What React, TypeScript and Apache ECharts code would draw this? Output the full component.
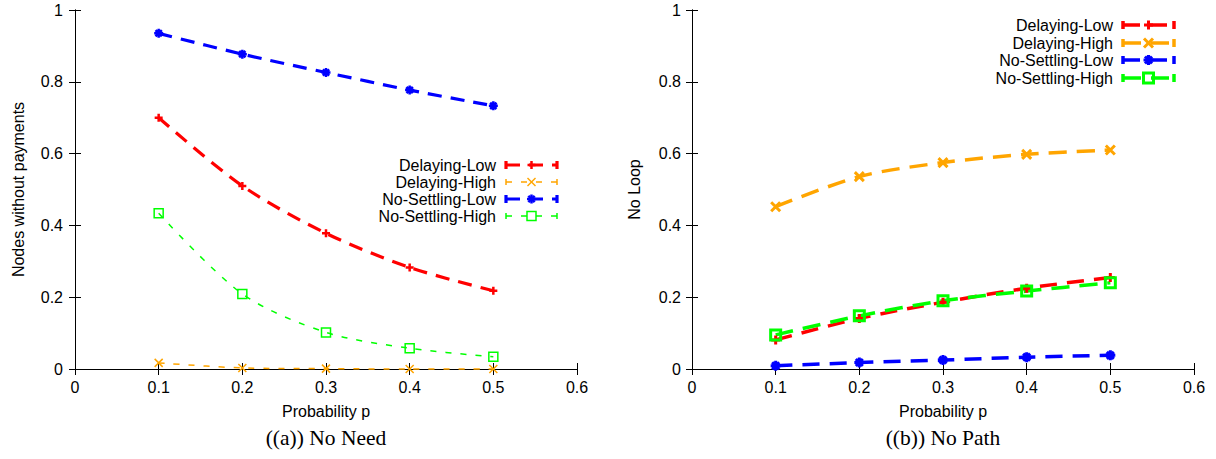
import React, { useEffect, useRef } from "react";
import * as echarts from "echarts";

// ---------- data ----------
const probabilities = [0.1, 0.2, 0.3, 0.4, 0.5];
const seriesNames = ["Delaying-Low", "Delaying-High", "No-Settling-Low", "No-Settling-High"];
const seriesColors = ["#ff0000", "#ffa500", "#0000ff", "#00ff00"];

// (a) No Need — "Nodes without payments"
const needDelayingLow = [0.7, 0.51, 0.378, 0.283, 0.218];
const needDelayingHigh = [0.017, 0.003, 0.001, 0.0, 0.0];
const needNoSettlingLow = [0.935, 0.877, 0.826, 0.777, 0.733];
const needNoSettlingHigh = [0.434, 0.209, 0.102, 0.058, 0.034];

// (b) No Path — "No Loop"
const pathDelayingLow = [0.081, 0.141, 0.186, 0.225, 0.255];
const pathDelayingHigh = [0.452, 0.536, 0.575, 0.598, 0.61];
const pathNoSettlingLow = [0.009, 0.018, 0.025, 0.033, 0.038];
const pathNoSettlingHigh = [0.095, 0.148, 0.19, 0.217, 0.24];

const xTickLabels = ["0", "0.1", "0.2", "0.3", "0.4", "0.5", "0.6"];
const yTickLabels = ["0", "0.2", "0.4", "0.6", "0.8", "1"];
const xAxisTitle = "Probability p";
const yAxisTitles = ["Nodes without payments", "No Loop"];
const captions = ["((a)) No Need", "((b)) No Path"];

// ---------- styling ----------
const SANS = "Liberation Sans, Arial, Helvetica, sans-serif";
const SERIF = "Liberation Serif, Times New Roman, serif";
const markerKinds = ["plus", "cross", "star", "square"];
const SYMBOL_PATHS: Record<string, string> = {
  plus: "path://M0,5L10,5M5,0L5,10",
  cross: "path://M0,0L10,10M10,0L0,10",
  star: "path://M0,5L10,5M5,0L5,10M1.5,1.5L8.5,8.5M8.5,1.5L1.5,8.5",
  square: "path://M0,0L10,0L10,10L0,10Z",
};

const GRIDS = [
  { left: 75, top: 10, width: 502, height: 359 },
  { left: 692, top: 10, width: 502, height: 359 },
];

// per panel, per series
const panelLineWidths = [
  [3.2, 1.5, 3.2, 1.5],
  [3.5, 3.5, 3.5, 3.5],
];
const panelDashes = [
  [[14, 9], [6, 9], [14, 9], [6, 9]],
  [[17, 10], [18, 10], [17, 10], [18, 10]],
];
const panelMarkerSizes = [
  [8, 8, 9, 9],
  [9, 9, 10, 10],
];
const panelMarkerWidths = [
  [2.5, 1.5, 2.5, 1.5],
  [3, 3, 3, 3],
];
const legendLayout = [
  { textRight: 496, x0: 506, x1: 557, rowY: [165, 182, 199, 216] },
  { textRight: 1113, x0: 1123, x1: 1174, rowY: [25, 43, 60, 78] },
];

function markerGraphics(kind: string, cx: number, cy: number, size: number, color: string, lw: number) {
  const h = size / 2;
  const st = { stroke: color, lineWidth: lw, fill: "none" };
  const ln = (x1: number, y1: number, x2: number, y2: number) => ({
    type: "line",
    shape: { x1, y1, x2, y2 },
    style: st,
    silent: true,
  });
  if (kind === "plus") return [ln(cx - h, cy, cx + h, cy), ln(cx, cy - h, cx, cy + h)];
  if (kind === "cross") return [ln(cx - h, cy - h, cx + h, cy + h), ln(cx + h, cy - h, cx - h, cy + h)];
  if (kind === "star") {
    const d = h * 0.7;
    return [
      ln(cx - h, cy, cx + h, cy),
      ln(cx, cy - h, cx, cy + h),
      ln(cx - d, cy - d, cx + d, cy + d),
      ln(cx + d, cy - d, cx - d, cy + d),
    ];
  }
  return [
    {
      type: "rect",
      shape: { x: cx - h, y: cy - h, width: size, height: size },
      style: st,
      silent: true,
    },
  ];
}

function legendGraphics(panel: number) {
  const L = legendLayout[panel];
  const els: any[] = [];
  seriesNames.forEach((name, i) => {
    const y = L.rowY[i];
    const color = seriesColors[i];
    const lw = panelLineWidths[panel][i];
    const cap = lw > 2 ? 4 : 3;
    els.push({
      type: "text",
      style: {
        text: name,
        x: L.textRight,
        y,
        align: "right",
        verticalAlign: "middle",
        font: `16px ${SANS}`,
        fill: "#000",
      },
      silent: true,
    });
    els.push({
      type: "line",
      shape: { x1: L.x0, y1: y, x2: L.x1, y2: y },
      style: { stroke: color, lineWidth: lw, lineDash: panelDashes[panel][i] },
      silent: true,
    });
    els.push({
      type: "line",
      shape: { x1: L.x0, y1: y - cap, x2: L.x0, y2: y + cap },
      style: { stroke: color, lineWidth: lw },
      silent: true,
    });
    els.push({
      type: "line",
      shape: { x1: L.x1, y1: y - cap, x2: L.x1, y2: y + cap },
      style: { stroke: color, lineWidth: lw },
      silent: true,
    });
    els.push(
      ...markerGraphics(
        markerKinds[i],
        (L.x0 + L.x1) / 2,
        y,
        panelMarkerSizes[panel][i],
        color,
        panelMarkerWidths[panel][i]
      )
    );
  });
  return els;
}

function buildOption() {
  const panels = [
    [needDelayingLow, needDelayingHigh, needNoSettlingLow, needNoSettlingHigh],
    [pathDelayingLow, pathDelayingHigh, pathNoSettlingLow, pathNoSettlingHigh],
  ];
  const labelStyle = { color: "#000", fontSize: 16, fontFamily: SANS };
  const axisLine = { show: true, lineStyle: { color: "#000", width: 1 } };
  const axisTick = { show: true, inside: true, length: 6, lineStyle: { color: "#000", width: 1 } };

  const xAxis: any[] = [];
  const yAxis: any[] = [];
  GRIDS.forEach((_, g) => {
    xAxis.push({
      type: "value",
      gridIndex: g,
      position: "bottom",
      min: 0,
      max: 0.6,
      interval: 0.1,
      axisLine,
      axisTick,
      splitLine: { show: false },
      axisLabel: {
        ...labelStyle,
        margin: 10,
        formatter: (v: number) => xTickLabels[Math.round(v * 10)] ?? "",
      },
      name: xAxisTitle,
      nameLocation: "middle",
      nameGap: 34,
      nameTextStyle: { ...labelStyle },
    });
    xAxis.push({
      type: "value",
      gridIndex: g,
      position: "top",
      min: 0,
      max: 0.6,
      interval: 0.1,
      axisLine,
      axisTick,
      splitLine: { show: false },
      axisLabel: { show: false },
    });
    yAxis.push({
      type: "value",
      gridIndex: g,
      position: "left",
      min: 0,
      max: 1,
      interval: 0.2,
      axisLine,
      axisTick,
      splitLine: { show: false },
      axisLabel: {
        ...labelStyle,
        margin: g === 0 ? 12 : 11,
        formatter: (v: number) => yTickLabels[Math.round(v * 5)] ?? "",
      },
      name: yAxisTitles[g],
      nameLocation: "middle",
      nameGap: g === 0 ? 49 : 50,
      nameTextStyle: { ...labelStyle },
    });
    yAxis.push({
      type: "value",
      gridIndex: g,
      position: "right",
      min: 0,
      max: 1,
      interval: 0.2,
      axisLine,
      axisTick,
      splitLine: { show: false },
      axisLabel: { show: false },
    });
  });

  const series: any[] = [];
  panels.forEach((vals, g) => {
    vals.forEach((arr, i) => {
      series.push({
        type: "line",
        name: seriesNames[i],
        xAxisIndex: g * 2,
        yAxisIndex: g * 2,
        data: probabilities.map((p, k) => [p, arr[k]]),
        smooth: 0.3,
        symbol: SYMBOL_PATHS[markerKinds[i]],
        symbolSize: panelMarkerSizes[g][i],
        showSymbol: true,
        showAllSymbol: true,
        clip: false,
        silent: true,
        emphasis: { disabled: true },
        lineStyle: {
          color: seriesColors[i],
          width: panelLineWidths[g][i],
          type: panelDashes[g][i],
        },
        itemStyle: {
          color: "rgba(0,0,0,0)",
          borderColor: seriesColors[i],
          borderWidth: panelMarkerWidths[g][i],
        },
      });
    });
  });

  const graphic: any[] = [
    ...legendGraphics(0),
    ...legendGraphics(1),
    ...captions.map((c, g) => ({
      type: "text",
      style: {
        text: c,
        x: GRIDS[g].left + GRIDS[g].width / 2,
        y: 438,
        align: "center",
        verticalAlign: "middle",
        font: `21.5px ${SERIF}`,
        fill: "#000",
      },
      silent: true,
    })),
  ];

  return {
    animation: false,
    backgroundColor: "#fff",
    grid: GRIDS.map((g) => ({ ...g, containLabel: false })),
    xAxis,
    yAxis,
    series,
    graphic,
  };
}

export default function App() {
  const ref = useRef<HTMLDivElement>(null);
  useEffect(() => {
    if (!ref.current) return;
    const chart = echarts.init(ref.current, undefined, { renderer: "svg" });
    chart.setOption(buildOption() as any);
    return () => chart.dispose();
  }, []);
  return (
    <div
      ref={ref}
      style={{ position: "absolute", left: 0, top: 0, width: 1216, height: 459, background: "#fff" }}
    />
  );
}
